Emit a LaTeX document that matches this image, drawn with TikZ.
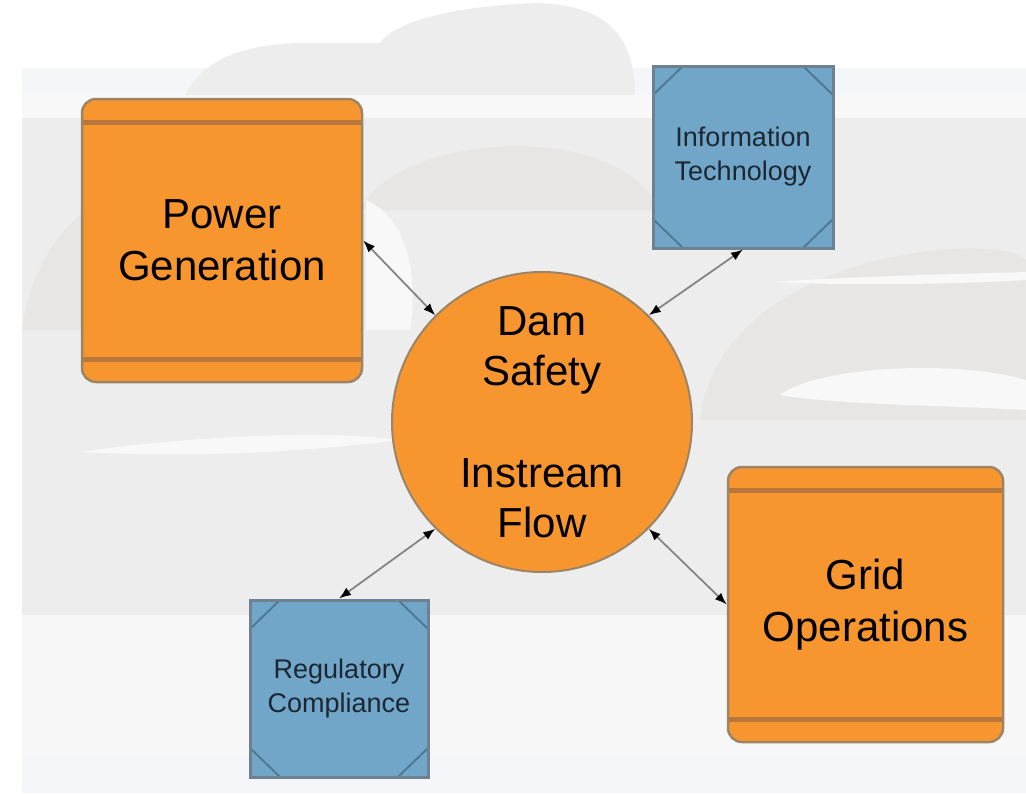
\documentclass[tikz,border=0pt]{standalone}
\usepackage{fontspec}
\setmainfont{Liberation Sans}
\usetikzlibrary{arrows.meta}
\definecolor{orangefill}{HTML}{F7962F}
\definecolor{orangeedge}{HTML}{9C8466}
\definecolor{bandline}{HTML}{B8763A}
\definecolor{bluefill}{HTML}{72A6C8}
\definecolor{blueedge}{HTML}{6E8190}
\definecolor{bluecorner}{HTML}{4E7A98}
\definecolor{bluetext}{HTML}{1B2833}
\definecolor{linkgray}{HTML}{858585}
\definecolor{panelbg}{HTML}{F4F6FA}
\definecolor{cloudgray}{HTML}{EDEDED}
\definecolor{clouddark}{HTML}{E7E6E5}
\definecolor{cloudwhite}{HTML}{F8F8F9}
\definecolor{bottomgray}{HTML}{F7F7F7}
\tikzset{
  orangebox/.style={draw=orangeedge,line width=2.5pt,fill=orangefill,rounded corners=14pt,
    inner sep=0pt,align=center,font=\fontsize{42}{52}\selectfont,
    path picture={
      \draw[bandline,line width=5pt] ([yshift=-23pt]path picture bounding box.north west)--([yshift=-23pt]path picture bounding box.north east);
      \draw[bandline,line width=5pt] ([yshift=23pt]path picture bounding box.south west)--([yshift=23pt]path picture bounding box.south east);
    }},
  bluebox/.style={draw=blueedge,line width=3pt,fill=bluefill,inner sep=0pt,align=center,
    text=bluetext,font=\fontsize{27}{34}\selectfont,
    path picture={
      \draw[bluecorner,line width=2pt] ([xshift=30pt]path picture bounding box.north west)--([yshift=-29pt]path picture bounding box.north west);
      \draw[bluecorner,line width=2pt] ([xshift=-30pt]path picture bounding box.north east)--([yshift=-29pt]path picture bounding box.north east);
      \draw[bluecorner,line width=2pt] ([xshift=30pt]path picture bounding box.south west)--([yshift=29pt]path picture bounding box.south west);
      \draw[bluecorner,line width=2pt] ([xshift=-30pt]path picture bounding box.south east)--([yshift=29pt]path picture bounding box.south east);
    }},
  damcircle/.style={circle,draw=orangeedge,line width=2pt,fill=orangefill,minimum size=300pt,
    inner sep=0pt,align=center,font=\fontsize{42}{50}\selectfont},
  link/.style={draw=linkgray,line width=1.8pt,
    arrows={Latex[color=black,length=12pt,width=9pt]-Latex[color=black,length=12pt,width=9pt]}}
}
\begin{document}
\begin{tikzpicture}[x=1pt,y=-1pt]
\useasboundingbox (0,0) rectangle (1026,793);
\fill[white] (0,0) rectangle (1026,793);
% sky and clouds
\fill[panelbg] (22,68) rectangle (1026,793);
\fill[cloudgray] (183,100) .. controls (200,60) and (240,45) .. (300,43) -- (380,43)
  .. controls (400,15) and (480,5) .. (537,3) .. controls (600,5) and (635,30) .. (635,95) -- cycle;
\fill[cloudgray] (22,95) rectangle (1026,615);
\fill[cloudwhite] (22,95) rectangle (1026,118);
\fill[clouddark] (360,210) .. controls (400,130) and (620,120) .. (660,210) -- cycle;
\fill[clouddark] (700,420) .. controls (720,250) and (1000,230) .. (1026,260) -- (1026,420) -- cycle;
\fill[clouddark] (22,330) .. controls (40,200) and (150,150) .. (260,200) -- (260,330) -- cycle;
\fill[cloudwhite] (80,452) .. controls (200,435) and (330,430) .. (400,440) .. controls (300,452) and (200,458) .. (80,452) -- cycle;
\fill[cloudwhite] (780,395) .. controls (820,365) and (960,360) .. (1026,380) -- (1026,410) .. controls (940,405) and (840,405) .. (780,395) -- cycle;
\fill[cloudwhite] (366,200) .. controls (400,215) and (420,260) .. (410,330) -- (366,330) -- cycle;
\fill[cloudwhite] (770,282) .. controls (860,276) and (960,274) .. (1026,272) -- (1026,280) .. controls (960,284) and (860,286) .. (770,282) -- cycle;
\fill[bottomgray] (22,615) rectangle (1026,755);
% nodes
\node[orangebox,minimum width=280pt,minimum height=283pt] (pg) at (222,240.5) {Power\\Generation};
\node[orangebox,minimum width=275pt,minimum height=275pt] (go) at (865.5,604.5) {Grid\\Operations};
\node[bluebox,minimum width=180pt,minimum height=182pt] (it) at (743,157) {Information\\Technology};
\node[bluebox,minimum width=178pt,minimum height=177pt] (rc) at (339,688.5) {Regulatory\\Compliance};
\node[damcircle] (dam) at (542,422) {Dam\\Safety\\[52pt]Instream\\Flow};
% links
\draw[link] (dam.135) -- (pg.east);
\draw[link] (dam.45) -- (it.south);
\draw[link] (dam.225) -- (rc.north);
\draw[link] (dam.-45) -- (go.west);
\end{tikzpicture}
\end{document}
